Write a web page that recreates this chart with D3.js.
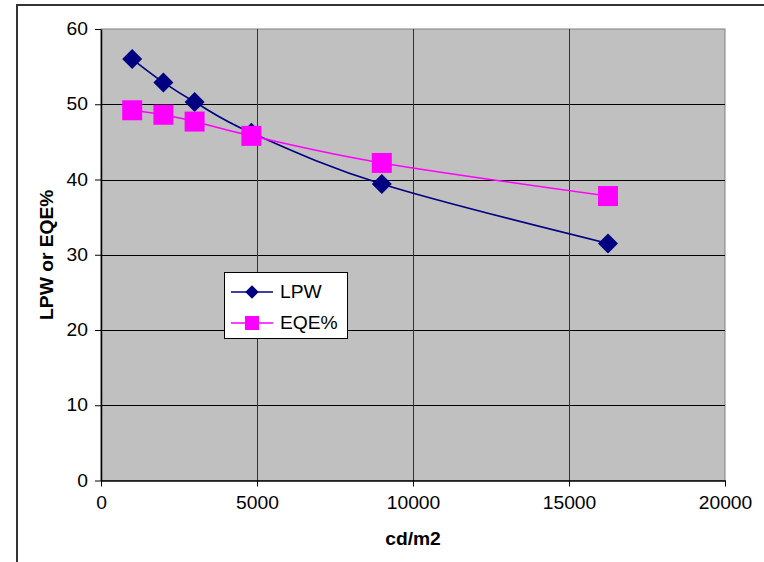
<!DOCTYPE html>
<html>
<head>
<meta charset="utf-8">
<script src="https://cdn.jsdelivr.net/npm/d3@7"></script>
<style>
  html, body { margin: 0; padding: 0; background: #fff; }
  svg { display: block; font-family: "Liberation Sans", Arial, sans-serif; }
</style>
</head>
<body>
<svg id="chart" width="764" height="562"></svg>
<script>
// Luminance in cd/m2
const luminance = [1000, 2000, 3000, 4820, 9000, 16250];
// Efficacy (lm/W) and external quantum efficiency (%)
const lpwValues = [56.0, 52.9, 50.3, 46.2, 39.4, 31.5];
const eqeValues = [49.2, 48.6, 47.7, 45.8, 42.2, 37.8];
const xTicks = [0, 5000, 10000, 15000, 20000];
const yTicks = [0, 10, 20, 30, 40, 50, 60];
const seriesNames = ["LPW", "EQE%"];
const seriesColors = ["#000080", "#FF00FF"];

// Text is set slightly wide, like the original chart's typeface
const FONT = 17.5;
const SX = 1.1;

const svg = d3.select("#chart");
const plot = { left: 101, top: 29, right: 725, bottom: 480.5 };

const x = d3.scaleLinear().domain([0, 20000]).range([plot.left, plot.right]);
const y = d3.scaleLinear().domain([0, 60]).range([plot.bottom, plot.top]);

// widen a text element horizontally about its own anchor x
function widen(sel) {
  sel.each(function () {
    const t = d3.select(this);
    const x0 = +t.attr("x") || 0;
    t.attr("x", x0 / SX).attr("transform", `scale(${SX},1)`);
  });
}

// Outer chart frame
svg.append("rect")
  .attr("x", 17).attr("y", 5).attr("width", 760).attr("height", 570)
  .attr("fill", "#fff").attr("stroke", "#333").attr("stroke-width", 2);

// Plot background
svg.append("rect")
  .attr("x", plot.left).attr("y", plot.top)
  .attr("width", plot.right - plot.left).attr("height", plot.bottom - plot.top)
  .attr("fill", "#C0C0C0").attr("stroke", "#808080").attr("stroke-width", 1);

// Gridlines
svg.append("g").selectAll("line").data(yTicks.filter(d => d > 0 && d < 60)).join("line")
  .attr("x1", plot.left).attr("x2", plot.right)
  .attr("y1", d => Math.round(y(d)) + 0.5).attr("y2", d => Math.round(y(d)) + 0.5)
  .attr("stroke", "#000").attr("stroke-width", 1);
svg.append("g").selectAll("line").data(xTicks.filter(d => d > 0 && d < 20000)).join("line")
  .attr("y1", plot.top).attr("y2", plot.bottom)
  .attr("x1", d => Math.round(x(d)) + 0.5).attr("x2", d => Math.round(x(d)) + 0.5)
  .attr("stroke", "#333").attr("stroke-width", 1);

// Axes
const xAxis = d3.axisBottom(x).tickValues(xTicks).tickFormat(d3.format("d"))
  .tickSizeInner(6).tickSizeOuter(0).tickPadding(10);
const yAxis = d3.axisLeft(y).tickValues(yTicks).tickFormat(d3.format("d"))
  .tickSizeInner(6).tickSizeOuter(0).tickPadding(7);

const gx = svg.append("g").attr("transform", `translate(0,${plot.bottom})`).call(xAxis);
const gy = svg.append("g").attr("transform", `translate(${plot.left},0)`).call(yAxis);
[gx, gy].forEach(g => {
  g.attr("font-size", null).attr("font-family", null);
  g.select(".domain").attr("stroke", "#000").attr("stroke-width", 1.5);
  g.selectAll(".tick line").attr("stroke", "#000");
  g.selectAll(".tick text").attr("fill", "#000").style("font-size", FONT + "px");
});
widen(gx.selectAll(".tick text"));
widen(gy.selectAll(".tick text"));

// Axis titles
svg.append("text")
  .attr("x", x(10000)).attr("y", 545)
  .attr("text-anchor", "middle")
  .style("font-size", FONT + "px").style("font-weight", "bold")
  .text("cd/m2")
  .call(widen);
svg.append("g")
  .attr("transform", `translate(52.5,${(plot.top + plot.bottom) / 2}) rotate(-90)`)
  .append("text")
  .attr("x", 0).attr("y", 0)
  .attr("text-anchor", "middle")
  .style("font-size", FONT + "px").style("font-weight", "bold")
  .text("LPW or EQE%")
  .call(widen);

// Series lines (smoothed)
const line = d3.line()
  .x(d => x(d[0])).y(d => y(d[1]))
  .curve(d3.curveCardinal.tension(0));

const series = [lpwValues, eqeValues].map((vals, i) => ({
  name: seriesNames[i],
  color: seriesColors[i],
  points: luminance.map((l, j) => [l, vals[j]])
}));

const markerType = [d3.symbolDiamond2, d3.symbolSquare];
const markerSize = [255, 400];
const legendMarkerSize = [115, 196];

series.forEach(s => {
  svg.append("path")
    .attr("d", line(s.points))
    .attr("fill", "none")
    .attr("stroke", s.color)
    .attr("stroke-width", 1.6);
});

series.forEach((s, i) => {
  const gen = d3.symbol().type(markerType[i]).size(markerSize[i]);
  svg.append("g").selectAll("path").data(s.points).join("path")
    .attr("transform", d => `translate(${x(d[0])},${y(d[1])})`)
    .attr("d", gen())
    .attr("fill", s.color);
});

// Legend
const legend = svg.append("g");
legend.append("rect")
  .attr("x", 224.5).attr("y", 272.5).attr("width", 123).attr("height", 66)
  .attr("fill", "#fff").attr("stroke", "#000").attr("stroke-width", 1);
series.forEach((s, i) => {
  const cy = 292 + i * 31;
  legend.append("line")
    .attr("x1", 231).attr("x2", 273).attr("y1", cy).attr("y2", cy)
    .attr("stroke", s.color).attr("stroke-width", 1.5);
  const gen = d3.symbol().type(markerType[i]).size(legendMarkerSize[i]);
  legend.append("path")
    .attr("transform", `translate(252,${cy})`)
    .attr("d", gen())
    .attr("fill", s.color);
  legend.append("text")
    .attr("x", 280).attr("y", cy + 6)
    .style("font-size", FONT + "px")
    .text(s.name)
    .call(widen);
});
</script>
</body>
</html>
